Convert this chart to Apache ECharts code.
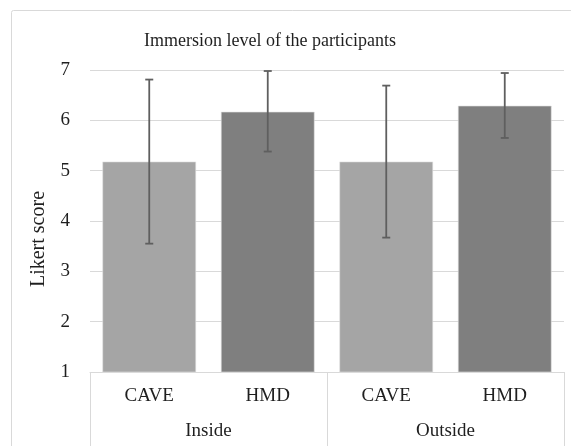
<!DOCTYPE html>
<html>
<head>
<meta charset="utf-8">
<script src="https://cdn.jsdelivr.net/npm/echarts@6/dist/echarts.min.js"></script>
<style>html,body{margin:0;padding:0;background:#fff;}#c{width:571px;height:446px;}</style>
</head>
<body>
<div id="c"></div>
<script>
const categories = ['CAVE', 'HMD', 'CAVE', 'HMD'];
const groups = ['Inside', 'Outside'];
const means = [5.18, 6.17, 5.18, 6.29];
const errLow = [3.55, 5.38, 3.67, 5.65];
const errHigh = [6.81, 6.98, 6.69, 6.94];
const yTicks = [1, 2, 3, 4, 5, 6, 7];

const FONT = '"Liberation Serif", "Times New Roman", serif';
const TXT = '#1f1f1f';
const chart = echarts.init(document.getElementById('c'), null, {renderer: 'canvas'});

chart.setOption({
  animation: false,
  backgroundColor: '#fff',
  title: {
    text: 'Immersion level of the participants',
    left: 139, top: 27,
    textStyle: {fontFamily: FONT, fontSize: 18, fontWeight: 'normal', color: TXT}
  },
  graphic: [
    {type: 'rect', shape: {x: 11.5, y: 10.5, width: 620, height: 500, r: 2},
     style: {fill: 'none', stroke: '#d9d9d9', lineWidth: 1}, silent: true, z: -1},
    {type: 'text', x: 39, y: 239, rotation: Math.PI / 2,
     style: {text: 'Likert score', fontFamily: FONT, fontSize: 20, fill: TXT,
             align: 'center', verticalAlign: 'middle'}}
  ],
  grid: {left: 90, right: 7, top: 70, bottom: 74},
  xAxis: [
    {type: 'category', data: categories, gridIndex: 0,
     axisLine: {show: true, lineStyle: {color: '#d9d9d9', width: 1}},
     axisTick: {show: false},
     axisLabel: {fontFamily: FONT, fontSize: 19, color: TXT, margin: 15}},
    {type: 'category', data: groups, gridIndex: 0, position: 'bottom',
     axisLine: {show: false},
     axisTick: {show: true, length: 80, lineStyle: {color: '#d9d9d9', width: 1}},
     axisLabel: {fontFamily: FONT, fontSize: 19, color: TXT, margin: 50}}
  ],
  yAxis: {
    type: 'value', min: yTicks[0], max: yTicks[yTicks.length - 1], interval: 1,
    axisLine: {show: false}, axisTick: {show: false},
    splitLine: {lineStyle: {color: '#d9d9d9', width: 1}},
    axisLabel: {fontFamily: FONT, fontSize: 19, color: TXT, margin: 20}
  },
  series: [
    {type: 'bar', xAxisIndex: 0, data: means, barCategoryGap: '21%',
     itemStyle: {
       color: p => (p.dataIndex % 2 === 0 ? '#a5a5a5' : '#7f7f7f'),
       borderColor: '#e0e0e0', borderWidth: 0.6
     }},
    {type: 'custom', xAxisIndex: 0, z: 10,
     data: categories.map((c, i) => [i, errLow[i], errHigh[i]]),
     renderItem: (params, api) => {
       const i = api.value(0);
       const lo = api.coord([i, api.value(1)]);
       const hi = api.coord([i, api.value(2)]);
       const cap = 4;
       const st = {stroke: '#5f5f5f', lineWidth: 1.8};
       return {type: 'group', children: [
         {type: 'line', shape: {x1: lo[0], y1: lo[1], x2: hi[0], y2: hi[1]}, style: st},
         {type: 'line', shape: {x1: lo[0] - cap, y1: lo[1], x2: lo[0] + cap, y2: lo[1]}, style: st},
         {type: 'line', shape: {x1: hi[0] - cap, y1: hi[1], x2: hi[0] + cap, y2: hi[1]}, style: st}
       ]};
     }}
  ]
});
</script>
</body>
</html>
